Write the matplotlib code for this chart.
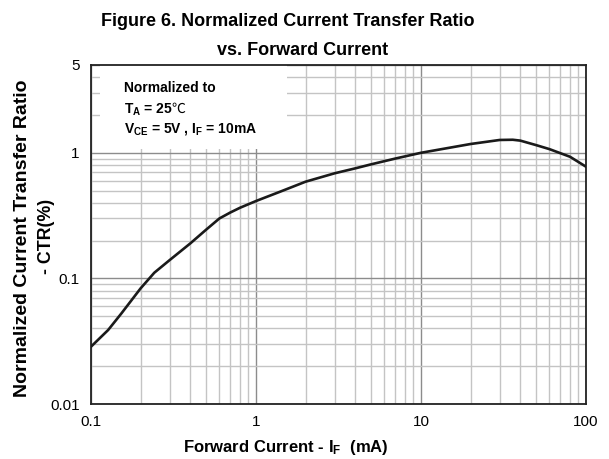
import matplotlib.pyplot as plt
from matplotlib.patches import Rectangle
from matplotlib.ticker import LogLocator, NullFormatter

plt.rcParams['font.family'] = ['Liberation Sans', 'DejaVu Sans']
plt.rcParams['mathtext.fontset'] = 'custom'
plt.rcParams['mathtext.rm'] = 'Liberation Sans'
plt.rcParams['mathtext.bf'] = 'Liberation Sans:bold'

# curve
i_f = [0.1, 0.127, 0.153, 0.2, 0.242, 0.3, 0.4, 0.5, 0.6, 0.7, 0.8, 1, 1.4, 2, 3,
       4, 5, 7, 10, 20, 30, 36, 40, 50, 60, 80, 100]
ctr = [0.0286, 0.0388, 0.0527, 0.0834, 0.111, 0.140, 0.190, 0.245, 0.30, 0.335,
       0.365, 0.413, 0.49, 0.589, 0.687, 0.752, 0.81, 0.90, 1.0, 1.175, 1.265,
       1.27, 1.25, 1.15, 1.07, 0.93, 0.775]

xticks = [0.1, 1, 10, 100]
xlabels = ['0.1', '1', '10', '100']
yticks = [0.01, 0.1, 1, 5]
ylabels = ['0.01', '0.1', '1', '5']

fig = plt.figure(figsize=(6.09, 4.59), dpi=100)
ax = fig.add_axes([0.1494, 0.1198, 0.8128, 0.7386])

ax.plot(i_f, ctr, color='#1a1a1a', lw=1.9, zorder=3)
ax.set_xscale('log')
ax.set_yscale('log')
ax.set_xlim(0.1, 100)
ax.set_ylim(0.01, 5)

ax.set_xticks(xticks)
ax.set_xticklabels(xlabels)
ax.set_yticks(yticks)
ax.set_yticklabels(ylabels)
ax.xaxis.set_minor_locator(LogLocator(base=10, subs=range(2, 10)))
ax.yaxis.set_minor_locator(LogLocator(base=10, subs=range(2, 10)))
ax.xaxis.set_minor_formatter(NullFormatter())
ax.yaxis.set_minor_formatter(NullFormatter())
ax.tick_params(which='both', length=0, labelsize=11, pad=8)

ax.set_axisbelow(True)
ax.grid(True, which='major', color='#8c8c8c', lw=1.0)
ax.grid(True, which='minor', color='#c4c4c4', lw=1.0)
for s in ax.spines.values():
    s.set_linewidth(1.3)
    s.set_color('#222222')

# white box behind the note
ax.add_patch(Rectangle((0.018, 0.752), 0.378, 0.248, transform=ax.transAxes,
                       facecolor='white', edgecolor='none', zorder=1))
ax.text(0.066, 0.921, 'Normalized to', transform=ax.transAxes,
        fontsize=10, fontweight='bold', zorder=4)
ta = ax.text(0.066, 0.858, r'$\mathbf{T_A}$ = 25', transform=ax.transAxes,
             fontsize=10, fontweight='bold', zorder=4)
# degree sign drawn apart, mathtext has no glyph for it
ax.annotate('℃', xy=(1, 0), xycoords=ta, xytext=(-1, 1.5),
            textcoords='offset points', va='bottom', fontsize=10,
            family=['Noto Sans CJK SC', 'DejaVu Sans'], zorder=4)
ax.text(0.066, 0.80, r'$\mathbf{V_{CE}}$ = 5V , $\mathbf{I_F}$ = 10mA',
        transform=ax.transAxes, fontsize=10, fontweight='bold', zorder=4)

fig.text(0.473, 0.954, 'Figure 6. Normalized Current Transfer Ratio',
         ha='center', va='center', fontsize=13, fontweight='bold')
fig.text(0.496, 0.891, 'vs. Forward Current',
         ha='center', va='center', fontsize=13, fontweight='bold')
fig.text(0.47, 0.025, r'Forward Current - $\mathbf{I_F}$  (mA)',
         ha='center', va='center', fontsize=12, fontweight='bold')
fig.text(0.037, 0.482, 'Normalized Current Transfer Ratio',
         ha='center', va='center', rotation=90, fontsize=14, fontweight='bold')
fig.text(0.077, 0.484, '- CTR(%)',
         ha='center', va='center', rotation=90, fontsize=12.8, fontweight='bold')

fig.savefig('out.png', dpi=100)
